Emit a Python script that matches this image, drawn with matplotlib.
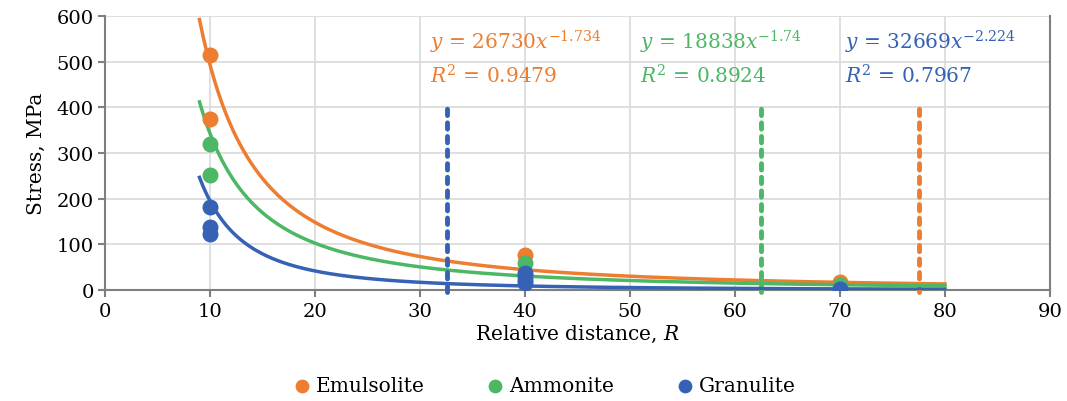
import numpy as np
import matplotlib.pyplot as plt

plt.rcParams['font.family'] = ['DejaVu Serif']
plt.rcParams['mathtext.fontset'] = 'dejavuserif'

# measured points (relative distance, stress)
emul_x = [10, 10, 40, 70]
emul_y = [515, 375, 77, 17]
ammo_x = [10, 10, 40, 70]
ammo_y = [320, 252, 60, 10]
gran_x = [10, 10, 10, 40, 40, 40, 40, 70]
gran_y = [182, 138, 122, 38, 30, 22, 15, 2]

# power-law fits y = a * x^b, R^2
fits = {
    'Emulsolite': (26730, -1.734, 0.9479),
    'Ammonite': (18838, -1.74, 0.8924),
    'Granulite': (32669, -2.224, 0.7967),
}
# dashed vertical limits
limit_x = {'Emulsolite': 77.5, 'Ammonite': 62.5, 'Granulite': 32.6}
label_pos = {'Emulsolite': 31, 'Ammonite': 51, 'Granulite': 70.5}
exp_txt = {'Emulsolite': '1.734', 'Ammonite': '1.74', 'Granulite': '2.224'}

colors = {'Emulsolite': '#ED7D31', 'Ammonite': '#4CB765', 'Granulite': '#3562B4'}
pts = {'Emulsolite': (emul_x, emul_y), 'Ammonite': (ammo_x, ammo_y),
       'Granulite': (gran_x, gran_y)}

fig = plt.figure(figsize=(10.67, 4.02), dpi=100)
ax = fig.add_axes([0.0984, 0.276, 0.8856, 0.682])

xx = np.linspace(9, 80, 400)
for name in ['Emulsolite', 'Ammonite', 'Granulite']:
    a, b, r2 = fits[name]
    c = colors[name]
    ax.plot(xx, a * xx ** b, color=c, lw=2.5, zorder=3)
    x, y = pts[name]
    ax.scatter(x, y, s=110, color=c, zorder=4, label=name)
    ax.plot([limit_x[name]] * 2, [-5, 400], color=c, lw=3.5,
            ls=(0, (1.3, 1.5)), dash_capstyle='round', zorder=3,
            clip_on=False)
    lx = label_pos[name]
    ax.text(lx, 545, r'$y$ = %d$x^{\mathrm{-%s}}$' % (a, exp_txt[name]),
            color=c, fontsize=14.5, va='center')
    ax.text(lx, 470, r'$R^2$ = %.4f' % r2, color=c, fontsize=14.5, va='center')

ax.set_xlim(0, 90)
ax.set_ylim(0, 600)
ax.set_xticks(range(0, 91, 10))
ax.set_yticks(range(0, 601, 100))
ax.grid(True, color='#D9D9D9', lw=1.2, zorder=0)
ax.set_axisbelow(True)
ax.spines['top'].set_visible(False)
for s in ['bottom', 'left', 'right']:
    ax.spines[s].set_color('#7F7F7F')
    ax.spines[s].set_linewidth(1.5)
ax.tick_params(axis='both', length=5, width=1.5, color='#7F7F7F', labelsize=14)
ax.tick_params(axis='y', pad=3)
ax.set_xlabel('Relative distance, $R$', fontsize=14.5, labelpad=2)
ax.set_ylabel('Stress, MPa', fontsize=14.5, labelpad=8)

fig.legend(loc='lower center', ncol=3, frameon=False, fontsize=14.5,
           bbox_to_anchor=(0.505, -0.03), handletextpad=-0.3,
           columnspacing=2.5, markerscale=0.85)

plt.savefig('out.png')
